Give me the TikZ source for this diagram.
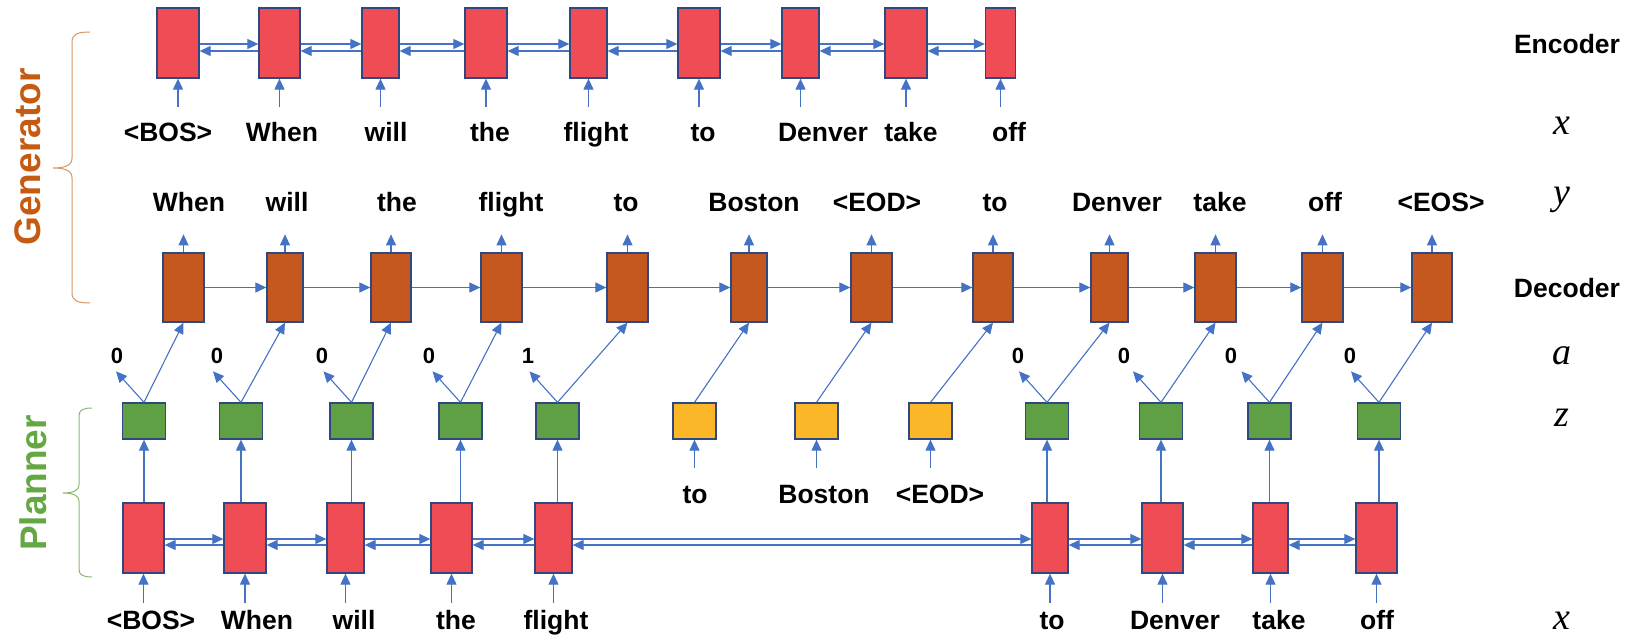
\documentclass[tikz,border=0pt]{standalone}
\usepackage{fontspec}
\setmainfont{Liberation Sans}
\newfontfamily\mathlet{Liberation Serif}
\usetikzlibrary{arrows.meta}
\definecolor{encred}{RGB}{240,76,86}
\definecolor{decor}{RGB}{197,88,30}
\definecolor{zgreen}{RGB}{95,160,68}
\definecolor{zyellow}{RGB}{252,183,41}
\definecolor{boxline}{RGB}{47,72,130}
\definecolor{arrblue}{RGB}{68,114,196}
\definecolor{genor}{RGB}{197,90,17}
\definecolor{genbrace}{RGB}{214,150,100}
\definecolor{plgreen}{RGB}{100,168,68}
\definecolor{plbrace}{RGB}{140,185,110}
\begin{document}
\begin{tikzpicture}[x=1pt,y=-1pt,
  cell/.style={rectangle, draw=boxline, line width=1.3pt, inner sep=0pt},
  enc/.style={cell, fill=encred, minimum height=70pt},
  dec/.style={cell, fill=decor, minimum height=69pt},
  zg/.style={cell, fill=zgreen, minimum height=36pt, minimum width=43pt},
  zy/.style={cell, fill=zyellow, minimum height=36pt, minimum width=43pt},
  wd/.style={anchor=base, font=\fontsize{26.5}{30}\selectfont\bfseries, inner sep=0pt},
  num/.style={anchor=base, font=\fontsize{22}{26}\selectfont\bfseries, inner sep=0pt},
  var/.style={anchor=base, font=\fontsize{38}{44}\selectfont\mathlet\itshape, inner sep=0pt},
  conn/.style={draw=arrblue, line width=1.1pt, -{Triangle[length=11pt,width=10pt]}},
  brc/.style={line width=1pt}
]
\useasboundingbox[fill=white] (0,0) rectangle (1634,636);

% ---------- Encoder ----------
\foreach \n/\x/\w in {e1/178/42, e2/279.5/41, e3/380.5/37, e4/486/42, e5/588.5/37, e6/699/42, e7/800.5/37, e8/906/42, e9/1000.5/30}
  \node[enc, minimum width=\w pt] (\n) at (\x,43) {};
\foreach \a/\b in {e1/e2, e2/e3, e3/e4, e4/e5, e5/e6, e6/e7, e7/e8, e8/e9} {
  \draw[conn] ([yshift=-1pt]\a.east) -- ([yshift=-1pt]\b.west);
  \draw[conn] ([yshift=-8pt]\b.west) -- ([yshift=-8pt]\a.east);
}
\foreach \n in {e1,e2,e3,e4,e5,e6,e7,e8,e9}
  \draw[conn] ([yshift=-28pt]\n.south) -- (\n.south);
\node[wd] (ex1) at (168,142) {<BOS>};
\node[wd] (ex2) at (282,142) {When};
\node[wd] (ex3) at (386,142) {will};
\node[wd] (ex4) at (490,142) {the};
\node[wd] (ex5) at (596,142) {flight};
\node[wd] (ex6) at (703,142) {to};
\node[wd] (ex7) at (823,142) {Denver};
\node[wd] (ex8) at (911,142) {take};
\node[wd] (ex9) at (1009,142) {off};

% ---------- Decoder ----------
\foreach \n/\x/\w in {d1/183.5/41, d2/285/36, d3/391/40, d4/501.5/41, d5/627.5/41, d6/749/36, d7/871.5/41, d8/993/40, d9/1109.5/37, d10/1215.5/41, d11/1322.5/41, d12/1432/40}
  \node[dec, minimum width=\w pt] (\n) at (\x,287.5) {};
\foreach \a/\b in {d1/d2, d2/d3, d3/d4, d4/d5, d5/d6, d6/d7, d7/d8, d8/d9, d9/d10, d10/d11, d11/d12}
  \draw[conn] (\a.east) -- (\b.west);
\foreach \n in {d1,d2,d3,d4,d5,d6,d7,d8,d9,d10,d11,d12}
  \draw[conn] (\n.north) -- ([yshift=18pt]\n.north);
\node[wd] (dy1) at (189,212) {When};
\node[wd] (dy2) at (287,212) {will};
\node[wd] (dy3) at (397,212) {the};
\node[wd] (dy4) at (511,212) {flight};
\node[wd] (dy5) at (626,212) {to};
\node[wd] (dy6) at (754,212) {Boston};
\node[wd] (dy7) at (877,212) {<EOD>};
\node[wd] (dy8) at (995,212) {to};
\node[wd] (dy9) at (1117,212) {Denver};
\node[wd] (dy10) at (1220,212) {take};
\node[wd] (dy11) at (1325,212) {off};
\node[wd] (dy12) at (1441,212) {<EOS>};

% ---------- z row ----------
\node[zg] (g1) at (144,421) {};
\node[zg] (g2) at (241,421) {};
\node[zg] (g3) at (351.5,421) {};
\node[zg] (g4) at (460.5,421) {};
\node[zg] (g5) at (557.5,421) {};
\node[zy] (y1) at (694.5,421) {};
\node[zy] (y2) at (816.5,421) {};
\node[zy] (y3) at (930.5,421) {};
\node[zg] (g6) at (1047,421) {};
\node[zg] (g7) at (1161,421) {};
\node[zg] (g8) at (1269.5,421) {};
\node[zg] (g9) at (1379,421) {};
\foreach \z/\d in {g1/d1, g2/d2, g3/d3, g4/d4, g5/d5, y1/d6, y2/d7, y3/d8, g6/d9, g7/d10, g8/d11, g9/d12}
  \draw[conn] (\z.north) -- (\d.south);
\foreach \z in {g1,g2,g3,g4,g5,g6,g7,g8,g9}
  \draw[conn] (\z.north) -- ++(-28,-31);
\node[num] (a1) at (117,363) {0};
\node[num] (a2) at (217,363) {0};
\node[num] (a3) at (322,363) {0};
\node[num] (a4) at (429,363) {0};
\node[num] (a5) at (528,363) {1};
\node[num] (a6) at (1018,363) {0};
\node[num] (a7) at (1124,363) {0};
\node[num] (a8) at (1231,363) {0};
\node[num] (a9) at (1350,363) {0};
\foreach \n in {y1,y2,y3}
  \draw[conn] ([yshift=-28pt]\n.south) -- (\n.south);
\node[wd] (yl1) at (695,503) {to};
\node[wd] (yl2) at (824,503) {Boston};
\node[wd] (yl3) at (940,503) {<EOD>};

% ---------- Planner encoder ----------
\foreach \n/\x/\w in {p1/143.5/41, p2/245/42, p3/345.5/37, p4/451.5/41, p5/553.5/37, p6/1050/36, p7/1162.5/41, p8/1270.5/35, p9/1376.5/41}
  \node[enc, minimum width=\w pt] (\n) at (\x,538) {};
\foreach \a/\b in {p1/p2, p2/p3, p3/p4, p4/p5, p5/p6, p6/p7, p7/p8, p8/p9} {
  \draw[conn] ([yshift=-1pt]\a.east) -- ([yshift=-1pt]\b.west);
  \draw[conn] ([yshift=-7pt]\b.west) -- ([yshift=-7pt]\a.east);
}
\foreach \p/\z in {p1/g1, p2/g2, p3/g3, p4/g4, p5/g5, p6/g6, p7/g7, p8/g8, p9/g9}
  \draw[conn] (\z.south |- \p.north) -- (\z.south);
\foreach \n in {p1,p2,p3,p4,p5,p6,p7,p8,p9}
  \draw[conn] ([yshift=-29pt]\n.south) -- (\n.south);
\node[wd] (px1) at (151,629) {<BOS>};
\node[wd] (px2) at (257,629) {When};
\node[wd] (px3) at (354,629) {will};
\node[wd] (px4) at (456,629) {the};
\node[wd] (px5) at (556,629) {flight};
\node[wd] (px6) at (1052,629) {to};
\node[wd] (px7) at (1175,629) {Denver};
\node[wd] (px8) at (1279,629) {take};
\node[wd] (px9) at (1377,629) {off};

% ---------- right column ----------
\node[wd] (lenc) at (1567,54) {Encoder};
\node[var] (lx1) at (1562,135) {x};
\node[var] (ly) at (1562,205) {y};
\node[wd] (ldec) at (1567,298) {Decoder};
\node[var] (la) at (1562,365) {a};
\node[var] (lz) at (1562,426) {z};
\node[var] (lx2) at (1562,629) {x};

% ---------- braces ----------
\draw[brc, draw=genbrace] (90,32) .. controls (78,32) and (72,34) .. (72,42) -- (72,158)
  .. controls (72,165) and (66,168) .. (53,168) .. controls (66,168) and (72,171) .. (72,178)
  -- (72,293) .. controls (72,301) and (78,303) .. (90,303);
\draw[brc, draw=plbrace] (92,408) .. controls (83,408) and (79,410) .. (79,416) -- (79,485)
  .. controls (79,490) and (74,493) .. (63,493) .. controls (74,493) and (79,496) .. (79,501)
  -- (79,569) .. controls (79,575) and (83,577) .. (92,577);
\node[rotate=90, text=genor, font=\fontsize{37}{42}\selectfont\bfseries, inner sep=0pt] (gen) at (28,157) {Generator};
\node[rotate=90, text=plgreen, font=\fontsize{37}{42}\selectfont\bfseries, inner sep=0pt] (pln) at (33,483) {Planner};
\end{tikzpicture}
\end{document}
